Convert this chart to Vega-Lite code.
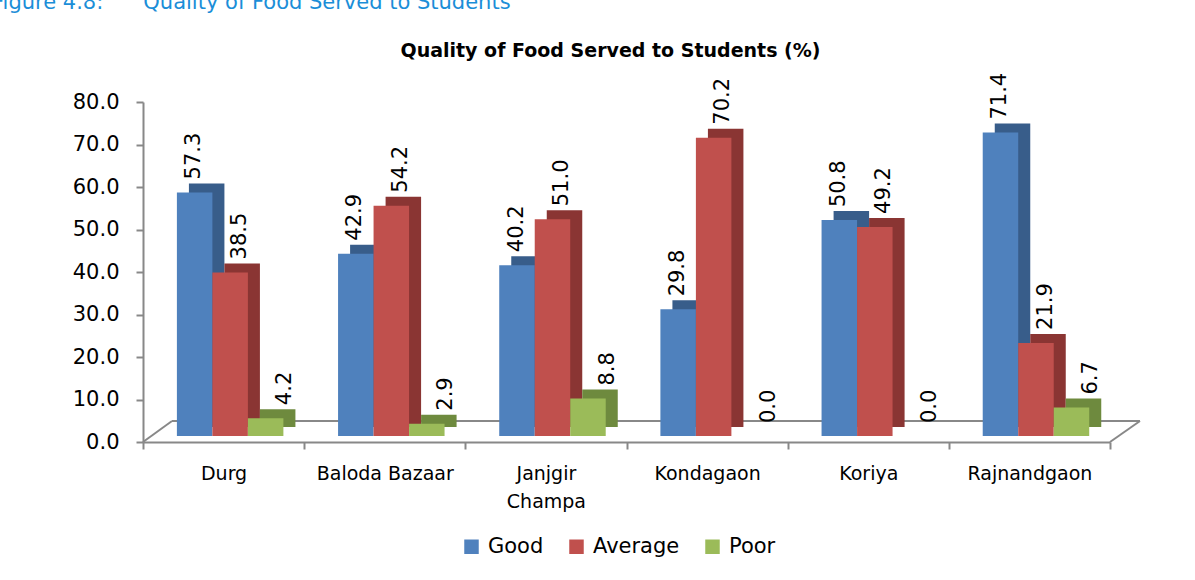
{
  "$schema": "https://vega.github.io/schema/vega-lite/v6.json",
  "width": 967,
  "height": 340,
  "autosize": "none",
  "padding": {"left": 143, "top": 102, "right": 85, "bottom": 138},
  "background": "white",
  "config": {"font": "DejaVu Sans", "view": {"stroke": null}},
  "title": {
    "text": "Figure 4.8:\u00a0\u00a0\u00a0\u00a0\u00a0\u00a0Quality of Food Served to Students",
    "fontSize": 21,
    "fontWeight": "normal",
    "color": "#1B8ED8",
    "anchor": "start",
    "frame": "group",
    "dx": -151,
    "offset": 28
  },
  "data": {
    "values": [
      {"district": "Durg", "rating": "Good", "value": 57.3},
      {"district": "Durg", "rating": "Average", "value": 38.5},
      {"district": "Durg", "rating": "Poor", "value": 4.2},
      {"district": "Baloda Bazaar", "rating": "Good", "value": 42.9},
      {"district": "Baloda Bazaar", "rating": "Average", "value": 54.2},
      {"district": "Baloda Bazaar", "rating": "Poor", "value": 2.9},
      {"district": "Janjgir Champa", "rating": "Good", "value": 40.2},
      {"district": "Janjgir Champa", "rating": "Average", "value": 51.0},
      {"district": "Janjgir Champa", "rating": "Poor", "value": 8.8},
      {"district": "Kondagaon", "rating": "Good", "value": 29.8},
      {"district": "Kondagaon", "rating": "Average", "value": 70.2},
      {"district": "Kondagaon", "rating": "Poor", "value": 0.0},
      {"district": "Koriya", "rating": "Good", "value": 50.8},
      {"district": "Koriya", "rating": "Average", "value": 49.2},
      {"district": "Koriya", "rating": "Poor", "value": 0.0},
      {"district": "Rajnandgaon", "rating": "Good", "value": 71.4},
      {"district": "Rajnandgaon", "rating": "Average", "value": 21.9},
      {"district": "Rajnandgaon", "rating": "Poor", "value": 6.7}
    ]
  },
  "resolve": {"scale": {"x": "independent"}, "axis": {"x": "independent", "y": "independent"}},
  "layer": [
    {
      "data": {"values": [{"part": "floor"}]},
      "layer": [
        {
          "mark": {"type": "rule", "color": "#888888", "strokeWidth": 2, "x2Offset": 29, "y2Offset": -21},
          "encoding": {
            "x": {"datum": 0, "type": "quantitative", "scale": {"domain": [0, 1], "nice": false, "zero": false}, "axis": null},
            "x2": {"datum": 0},
            "y": {"datum": 0, "type": "quantitative", "axis": null},
            "y2": {"datum": 0}
          }
        },
        {
          "mark": {"type": "rule", "color": "#888888", "strokeWidth": 2, "x2Offset": 30, "y2Offset": -21},
          "encoding": {
            "x": {"datum": 1, "type": "quantitative", "scale": {"domain": [0, 1], "nice": false, "zero": false}, "axis": null},
            "x2": {"datum": 1},
            "y": {"datum": 0, "type": "quantitative", "axis": null},
            "y2": {"datum": 0}
          }
        },
        {
          "mark": {"type": "rule", "color": "#888888", "strokeWidth": 2, "xOffset": 29, "x2Offset": 30, "yOffset": -21},
          "encoding": {
            "x": {"datum": 0, "type": "quantitative", "scale": {"domain": [0, 1], "nice": false, "zero": false}, "axis": null},
            "x2": {"datum": 1},
            "y": {"datum": 0, "type": "quantitative", "axis": null}
          }
        }
      ]
    },
    {
      "encoding": {
        "x": {
          "field": "district",
          "type": "nominal",
          "sort": null,
          "scale": {"paddingInner": 0, "paddingOuter": 0},
          "axis": {
            "title": null,
            "labelAngle": 0,
            "labelFontSize": 19,
            "labelColor": "black",
            "labelFont": "DejaVu Sans",
            "labelPadding": 15,
            "labelLineHeight": 28,
            "labelBaseline": "top",
            "labelExpr": "datum.label == 'Janjgir Champa' ? ['Janjgir', 'Champa'] : datum.label",
            "tickBand": "extent",
            "tickSize": 7,
            "tickColor": "#888888",
            "tickWidth": 2,
            "domainColor": "#888888",
            "domainWidth": 2,
            "grid": false
          }
        },
        "y": {
          "field": "value",
          "type": "quantitative",
          "scale": {"domain": [0, 80], "nice": false},
          "axis": {
            "values": [0, 10, 20, 30, 40, 50, 60, 70, 80],
            "format": ".1f",
            "labelFontSize": 21,
            "labelColor": "black",
            "labelPadding": 17,
            "tickSize": 7,
            "tickColor": "#888888",
            "tickWidth": 2,
            "domainColor": "#888888",
            "domainWidth": 2,
            "grid": false,
            "title": "Quality of Food Served to Students (%)",
            "titleColor": "black",
            "titleFontSize": 19,
            "titleFontWeight": "bold",
            "titleFont": "DejaVu Sans",
            "titleAngle": 0,
            "titleAlign": "center",
            "titleBaseline": "alphabetic",
            "titleX": 467,
            "titleY": -46
          }
        }
      },
      "resolve": {"scale": {"xOffset": "independent", "color": "independent"}},
      "layer": [
        {
          "mark": {"type": "bar", "yOffset": -15, "y2Offset": -15},
          "encoding": {
            "xOffset": {"field": "rating", "type": "nominal", "sort": ["Good", "Average", "Poor"], "scale": {"paddingInner": 0, "paddingOuter": 0.77, "align": 0.84}},
            "color": {
              "field": "rating",
              "type": "nominal",
              "scale": {"domain": ["Good", "Average", "Poor"], "range": ["#385D8A", "#8A3533", "#6E8A3E"]},
              "legend": null
            }
          }
        },
        {
          "mark": {"type": "bar", "yOffset": -6, "y2Offset": -6},
          "encoding": {
            "xOffset": {"field": "rating", "type": "nominal", "sort": ["Good", "Average", "Poor"], "scale": {"paddingInner": 0, "paddingOuter": 0.77, "align": 0.62}},
            "color": {
              "field": "rating",
              "type": "nominal",
              "sort": ["Good", "Average", "Poor"],
              "scale": {"domain": ["Good", "Average", "Poor"], "range": ["#4F81BD", "#C0504D", "#9BBB59"]},
              "legend": {
                "title": null,
                "orient": "none",
                "direction": "horizontal",
                "legendX": 318,
                "legendY": 434,
                "symbolType": "square",
                "symbolSize": 210,
                "symbolStrokeWidth": 0,
                "labelFontSize": 21,
                "labelFont": "DejaVu Sans",
                "labelColor": "black",
                "labelOffset": 6,
                "columnPadding": 22
              }
            }
          }
        },
        {
          "mark": {"type": "text", "angle": 270, "align": "left", "baseline": "middle", "fontSize": 21, "color": "black", "yOffset": -19},
          "encoding": {
            "xOffset": {"field": "rating", "type": "nominal", "sort": ["Good", "Average", "Poor"], "scale": {"paddingInner": 0, "paddingOuter": 0.77, "align": 0.73}},
            "text": {"field": "value", "type": "quantitative", "format": ".1f"}
          }
        }
      ]
    }
  ]
}
